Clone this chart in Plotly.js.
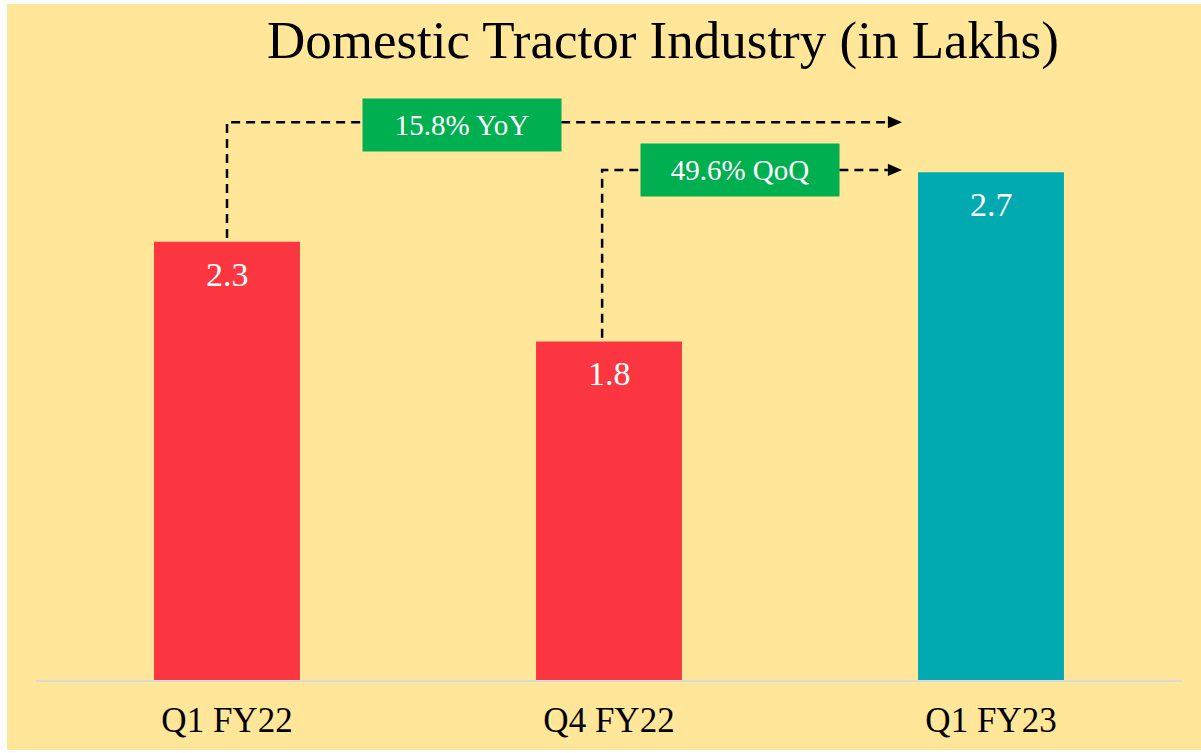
<!DOCTYPE html>
<html>
<head>
<meta charset="utf-8">
<script src="https://cdn.plot.ly/plotly-3.0.1.min.js"></script>
<style>
  html, body { margin: 0; padding: 0; background: #ffffff; width: 1201px; height: 753px; overflow: hidden; }
  #chart { position: absolute; left: 7px; top: 4px; width: 1194px; height: 746px; }
</style>
</head>
<body>
<div id="chart"></div>
<script>
// Data
const categories = ["Q1 FY22", "Q4 FY22", "Q1 FY23"];
const values = [2.33, 1.80, 2.70];
const barColors = ["#FB3640", "#FB3640", "#00AAB0"];
const changeLabels = ["15.8% YoY", "49.6% QoQ"];
const titleText = "Domestic Tractor Industry (in Lakhs)";

const FONT = "Liberation Serif, Times New Roman, serif";

const trace = {
  type: "bar",
  x: categories,
  y: values,
  marker: { color: barColors },
  width: 0.382,
  hoverinfo: "skip"
};

// value labels inside bars, near the top
const valueAnnotations = categories.map((c, i) => ({
  x: c, y: values[i], xref: "x", yref: "y",
  text: values[i].toFixed(1),
  showarrow: false, yanchor: "top", yshift: -12,
  font: { family: FONT, size: 34, color: "#ffffff" }
}));

// connector geometry (data coords)
const yoyY = 2.966, qoqY = 2.712;
const arrowEnd = 1.767, arrowBase = 1.730, headH = 0.033;
const dashLine = { color: "#000000", width: 2.5, dash: "9px,6px" };

const shapes = [
  { type: "path", xref: "x", yref: "y",
    path: `M 0,${values[0] + 0.02} L 0,${yoyY} L ${arrowBase},${yoyY}`,
    line: dashLine },
  { type: "path", xref: "x", yref: "y",
    path: `M 0.982,${values[1] + 0.02} L 0.982,${qoqY} L ${arrowBase},${qoqY}`,
    line: dashLine },
  { type: "path", xref: "x", yref: "y",
    path: `M ${arrowBase},${yoyY + headH} L ${arrowEnd},${yoyY} L ${arrowBase},${yoyY - headH} Z`,
    fillcolor: "#000000", line: { width: 0 } },
  { type: "path", xref: "x", yref: "y",
    path: `M ${arrowBase},${qoqY + headH} L ${arrowEnd},${qoqY} L ${arrowBase},${qoqY - headH} Z`,
    fillcolor: "#000000", line: { width: 0 } }
];

const boxAnnotations = [
  { x: 0.615, y: 2.952, xref: "x", yref: "y", text: changeLabels[0],
    showarrow: false, bgcolor: "#00B050", width: 196, height: 50,
    font: { family: FONT, size: 29, color: "#ffffff" } },
  { x: 1.344, y: 2.713, xref: "x", yref: "y", text: changeLabels[1],
    showarrow: false, bgcolor: "#00B050", width: 196, height: 50,
    font: { family: FONT, size: 29, color: "#ffffff" } }
];

const layout = {
  width: 1194, height: 746,
  paper_bgcolor: "#FFE699",
  plot_bgcolor: "#FFE699",
  margin: { l: 29, r: 19, t: 76, b: 70 },
  showlegend: false,
  title: {
    text: titleText,
    font: { family: FONT, size: 53, color: "#000000" },
    x: 0.547, xanchor: "center", xref: "paper",
    y: 0.953, yanchor: "middle", yref: "container"
  },
  xaxis: {
    type: "category",
    range: [-0.5, 2.5],
    showline: true, linecolor: "#D9D9D9", linewidth: 2,
    showgrid: false, zeroline: false, ticks: "",
    ticklabelstandoff: 8,
    tickfont: { family: FONT, size: 35, color: "#000000" },
    fixedrange: true
  },
  yaxis: {
    range: [0, 3.19],
    visible: false, showgrid: false, zeroline: false,
    fixedrange: true
  },
  shapes: shapes,
  annotations: valueAnnotations.concat(boxAnnotations)
};

Plotly.newPlot("chart", [trace], layout, { staticPlot: true, displayModeBar: false });
</script>
</body>
</html>
